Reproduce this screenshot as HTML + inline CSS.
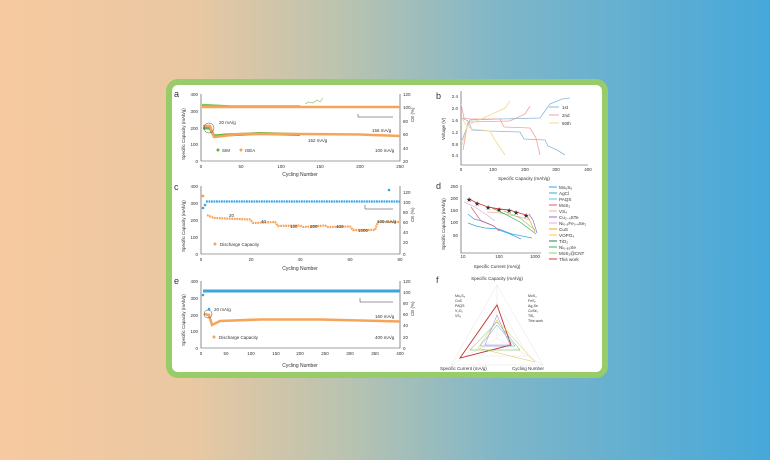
<!DOCTYPE html>
<html><head><meta charset="utf-8"><style>
html,body{margin:0;padding:0;width:770px;height:460px;overflow:hidden}
body{background:linear-gradient(90deg,#f7c9a0 0%,#e9c8a2 25%,#b9c3b0 45%,#7fb6c8 65%,#46a8da 100%)}
svg{position:absolute;left:0;top:0}
text{font-family:"Liberation Sans",sans-serif;fill:#333}
</style></head><body>
<svg width="770" height="460" viewBox="0 0 770 460">
<rect x="169" y="82" width="436" height="293" rx="9" fill="#fff" stroke="#98cc68" stroke-width="6"/>
<g font-size="4.5">
<!-- Panel a -->
<text x="174" y="97" font-size="9" fill="#111">a</text>
<path d="M201 94V161H400V94" fill="none" stroke="#444" stroke-width="0.6"/>
<g text-anchor="end"><text x="198" y="96">400</text><text x="198" y="113">300</text><text x="198" y="130">200</text><text x="198" y="146">100</text><text x="198" y="163">0</text></g>
<g><text x="403" y="96">120</text><text x="403" y="109">100</text><text x="403" y="123">80</text><text x="403" y="136">60</text><text x="403" y="150">40</text><text x="403" y="163">20</text></g>
<g text-anchor="middle"><text x="201" y="168">0</text><text x="241" y="168">50</text><text x="281" y="168">100</text><text x="320" y="168">150</text><text x="360" y="168">200</text><text x="400" y="168">250</text><text x="300" y="176" font-size="5">Cycling Number</text></g>
<text transform="translate(185,160) rotate(-90)" font-size="4.5">Specific Capacity (mAh/g)</text>
<text transform="translate(414,122) rotate(-90)" font-size="4.5">CE (%)</text>
<polyline points="202,105 230,106.5 300,106.5" fill="none" stroke="#7cc35a" stroke-width="2.5"/>
<polyline points="202,107 400,107" fill="none" stroke="#f6a45a" stroke-width="2.5"/>
<path d="M305 104l4 -2 4 1 4 -3 3 2 3 -4" fill="none" stroke="#7cc35a" stroke-width="0.6"/>
<polyline points="203,128 210,128 214,136 225,135 260,133.5 300,134.5" fill="none" stroke="#5cb33e" stroke-width="3"/>
<polyline points="203,126 210,126 214,137 240,134 300,134 360,134.5 400,136" fill="none" stroke="#f6a45a" stroke-width="2.5"/>
<circle cx="209" cy="128" r="5" fill="none" stroke="#444" stroke-width="0.5"/>
<text x="219" y="124" fill="#333">20 mA/g</text>
<text x="372" y="132" fill="#f6a45a">156 mA/g</text>
<text x="308" y="142" fill="#6cb84a">152 mA/g</text>
<circle cx="218" cy="150" r="1.5" fill="#5cb33e"/><text x="222" y="152">SIM</text>
<circle cx="241" cy="150" r="1.5" fill="#f6a45a"/><text x="245" y="152">ISEA</text>
<text x="375" y="152">100 mA/g</text>
<path d="M358 114V117H393" fill="none" stroke="#333" stroke-width="0.5"/>
<!-- Panel c -->
<text x="174" y="190" font-size="9" fill="#111">c</text>
<path d="M201 186V254H400V186" fill="none" stroke="#444" stroke-width="0.6"/>
<g text-anchor="end"><text x="198" y="188">400</text><text x="198" y="205">300</text><text x="198" y="222">200</text><text x="198" y="239">100</text><text x="198" y="256">0</text></g>
<g><text x="403" y="194">120</text><text x="403" y="204">100</text><text x="403" y="214">80</text><text x="403" y="224">60</text><text x="403" y="234">40</text><text x="403" y="244">20</text><text x="403" y="256">0</text></g>
<g text-anchor="middle"><text x="201" y="261">0</text><text x="251" y="261">20</text><text x="300" y="261">40</text><text x="350" y="261">60</text><text x="400" y="261">80</text><text x="300" y="270" font-size="5">Cycling Number</text></g>
<text transform="translate(185,252) rotate(-90)">Specific Capacity (mAh/g)</text>
<text transform="translate(414,222) rotate(-90)">CE (%)</text>
<polyline points="206,201.5 400,201.5" fill="none" stroke="#3aa5e0" stroke-width="2.2" stroke-dasharray="1.8,0.7"/>
<circle cx="203" cy="208" r="1.3" fill="#3aa5e0"/><circle cx="205" cy="205" r="1.3" fill="#3aa5e0"/><circle cx="389" cy="190" r="1.3" fill="#3aa5e0"/>
<polyline points="207,215 214,218 250,219.5 253,223 275,222 278,226 300,225.5 303,227 325,225.5 328,227 350,226.5 353,230 375,230 378,222 400,222" fill="none" stroke="#f6a45a" stroke-width="2.2" stroke-dasharray="1.8,0.7"/>
<circle cx="203" cy="196" r="1.4" fill="#f6a45a"/>
<text x="229" y="217">20</text><text x="261" y="223">40</text><text x="290" y="228">100</text><text x="310" y="228">200</text><text x="336" y="228">400</text><text x="358" y="232">1000</text>
<text x="377" y="223">100 mA/g</text>
<path d="M365 205V209H393" fill="none" stroke="#333" stroke-width="0.5"/>
<circle cx="215" cy="244" r="1.5" fill="#f6a45a"/><text x="220" y="246">Discharge Capacity</text>
<!-- Panel e -->
<text x="174" y="284" font-size="9" fill="#111">e</text>
<path d="M201 281V348H400V281" fill="none" stroke="#444" stroke-width="0.6"/>
<g text-anchor="end"><text x="198" y="283">400</text><text x="198" y="300">300</text><text x="198" y="317">200</text><text x="198" y="333">100</text><text x="198" y="350">0</text></g>
<g><text x="403" y="283">120</text><text x="403" y="294">100</text><text x="403" y="305">80</text><text x="403" y="316">60</text><text x="403" y="327">40</text><text x="403" y="339">20</text><text x="403" y="350">0</text></g>
<g text-anchor="middle"><text x="201" y="355">0</text><text x="226" y="355">50</text><text x="251" y="355">100</text><text x="276" y="355">150</text><text x="300" y="355">200</text><text x="325" y="355">250</text><text x="350" y="355">300</text><text x="375" y="355">350</text><text x="400" y="355">400</text><text x="300" y="367" font-size="5">Cycling Number</text></g>
<text transform="translate(185,346) rotate(-90)">Specific Capacity (mAh/g)</text>
<text transform="translate(414,316) rotate(-90)">CE (%)</text>
<polyline points="203,291 400,291" fill="none" stroke="#3aa5e0" stroke-width="3"/>
<circle cx="203" cy="295" r="1.3" fill="#3aa5e0"/><circle cx="209" cy="309" r="1.3" fill="#3aa5e0"/>
<polyline points="204,314 209,315 212,325 220,321 260,319.5 320,319.5 400,321.5" fill="none" stroke="#f6a45a" stroke-width="2.5"/>
<circle cx="208" cy="314" r="4" fill="none" stroke="#444" stroke-width="0.5"/>
<text x="214" y="311">20 mA/g</text>
<text x="375" y="318" fill="#f6a45a">160 mA/g</text>
<circle cx="214" cy="337" r="1.5" fill="#f6a45a"/><text x="219" y="339">Discharge Capacity</text>
<text x="375" y="339">400 mA/g</text>
<path d="M360 298V302H393" fill="none" stroke="#333" stroke-width="0.5"/>
<!-- Panel b -->
<text x="436" y="99" font-size="9" fill="#111">b</text>
<path d="M461 91V165H588" fill="none" stroke="#444" stroke-width="0.6"/>
<g text-anchor="end"><text x="458" y="98">2.4</text><text x="458" y="110">2.0</text><text x="458" y="122">1.6</text><text x="458" y="134">1.2</text><text x="458" y="146">0.8</text><text x="458" y="157">0.4</text></g>
<g text-anchor="middle"><text x="461" y="171">0</text><text x="493" y="171">100</text><text x="525" y="171">200</text><text x="556" y="171">300</text><text x="588" y="171">400</text><text x="524" y="180">Specific Capacity (mAh/g)</text></g>
<text transform="translate(445,140) rotate(-90)">Voltage (V)</text>
<path d="M462 118L468 121 472 130 490 131 520 132 524 139 545 140 548 146 557 150 565 155" fill="none" stroke="#8cb8dc" stroke-width="0.8"/>
<path d="M462 140L470 120 500 119 540 118 550 104 562 99 570 98" fill="none" stroke="#8cb8dc" stroke-width="0.8"/>
<path d="M461 104L464 118 470 119 500 119 504 127 530 128 536 138 540 155" fill="none" stroke="#f4a0a0" stroke-width="0.8"/>
<path d="M463 150L468 122 510 121 525 114 530 106" fill="none" stroke="#f4a0a0" stroke-width="0.8"/>
<path d="M462 118L466 125 472 129 490 131 495 140 505 155" fill="none" stroke="#f5d890" stroke-width="0.8"/>
<path d="M462 145L468 125 490 115 505 108 510 101" fill="none" stroke="#f5d890" stroke-width="0.8"/>
<line x1="549" y1="107" x2="559" y2="107" stroke="#8cb8dc"/><text x="562" y="109">1st</text>
<line x1="549" y1="115" x2="559" y2="115" stroke="#f4a0a0"/><text x="562" y="117">2nd</text>
<line x1="549" y1="123" x2="559" y2="123" stroke="#f5d890"/><text x="562" y="125">50th</text>
<!-- Panel d -->
<text x="436" y="189" font-size="9" fill="#111">d</text>
<path d="M461 185V253H541" fill="none" stroke="#444" stroke-width="0.6"/>
<g text-anchor="end"><text x="458" y="188">250</text><text x="458" y="200">200</text><text x="458" y="212">150</text><text x="458" y="224">100</text><text x="458" y="237">50</text></g>
<g text-anchor="middle"><text x="463" y="258">10</text><text x="499" y="258">100</text><text x="535" y="258">1000</text><text x="497" y="268">Specific Current (mA/g)</text></g>
<text transform="translate(445,250) rotate(-90)">Specific Capacity (mAh/g)</text>
<polyline points="468,214 474,219 482,221 492,225 499,230 510,234 521,239" fill="none" stroke="#3aa5e0" stroke-width="0.7"/>
<polyline points="468,223 476,226 485,228 499,229 512,234 532,238" fill="none" stroke="#3aa5e0" stroke-width="0.7"/>
<polyline points="471,207 481,221 494,226 499,231" fill="none" stroke="#e05a7a" stroke-width="0.7"/>
<polyline points="464,202 475,207 487,215 495,221" fill="none" stroke="#d8b0e0" stroke-width="0.7"/>
<polyline points="487,212 500,213 520,217 530,220" fill="none" stroke="#f0b0a0" stroke-width="0.7"/>
<polyline points="492,208 505,214 520,222 536,234" fill="none" stroke="#40b050" stroke-width="0.7"/>
<polyline points="504,211 520,218 535,230" fill="none" stroke="#90d070" stroke-width="0.7"/>
<polyline points="529,214 533,220 537,233" fill="none" stroke="#9070d0" stroke-width="0.7"/>
<polyline points="527,215 531,223 535,232" fill="none" stroke="#f0a030" stroke-width="0.7"/>
<polyline points="469,199 477,203 488,207 499,209 509,210 516,212 526,215" fill="none" stroke="#e83030" stroke-width="0.9"/>
<g><text x="466" y="202" font-size="7" fill="#e83030">★</text><text x="474" y="206" font-size="7" fill="#e83030">★</text><text x="485" y="210" font-size="7" fill="#e83030">★</text><text x="496" y="212" font-size="7" fill="#e83030">★</text><text x="506" y="213" font-size="7" fill="#e83030">★</text><text x="513" y="215" font-size="7" fill="#e83030">★</text><text x="523" y="218" font-size="7" fill="#e83030">★</text></g>
<g font-size="4.6">
<line x1="549" y1="187" x2="557" y2="187" stroke="#3aa5e0"/><text x="559" y="189">Mo₆S₈</text>
<line x1="549" y1="193" x2="557" y2="193" stroke="#3aa5e0"/><text x="559" y="195">AgCl</text>
<line x1="549" y1="199" x2="557" y2="199" stroke="#60c0e8"/><text x="559" y="201">PAQS</text>
<line x1="549" y1="205" x2="557" y2="205" stroke="#e05a7a"/><text x="559" y="207">MoS₂</text>
<line x1="549" y1="211" x2="557" y2="211" stroke="#f0b0a0"/><text x="559" y="213">VS₄</text>
<line x1="549" y1="217" x2="557" y2="217" stroke="#9070d0"/><text x="559" y="219">Cu₂₋ₓSTe</text>
<line x1="549" y1="223" x2="557" y2="223" stroke="#d8b0e0"/><text x="559" y="225">Ni₀.₆Fe₀.₄Se₂</text>
<line x1="549" y1="229" x2="557" y2="229" stroke="#f0a030"/><text x="559" y="231">CuS</text>
<line x1="549" y1="235" x2="557" y2="235" stroke="#f5d040"/><text x="559" y="237">VOPO₄</text>
<line x1="549" y1="241" x2="557" y2="241" stroke="#208050"/><text x="559" y="243">TiO₂</text>
<line x1="549" y1="247" x2="557" y2="247" stroke="#40b050"/><text x="559" y="249">Ni₀.₈₅Se</text>
<line x1="549" y1="253" x2="557" y2="253" stroke="#90d070"/><text x="559" y="255">MoS₂@CNT</text>
<line x1="549" y1="259" x2="557" y2="259" stroke="#e83030"/><text x="559" y="261">This work</text>
</g>
<!-- Panel f -->
<text x="436" y="283" font-size="9" fill="#111">f</text>
<g fill="none" stroke="#ddd" stroke-width="0.4">
<polygon points="497,285 543,365 451,365"/><polygon points="497,303 528,356 466,356"/><polygon points="497,320 512,347 482,347"/>
<line x1="497" y1="338" x2="497" y2="285"/><line x1="497" y1="338" x2="543" y2="365"/><line x1="497" y1="338" x2="451" y2="365"/>
</g>
<polygon points="497,305 511,345 460,358" fill="none" stroke="#c03030" stroke-width="0.9"/>
<polygon points="497,320 535,362 478,348" fill="none" stroke="#e8c040" stroke-width="0.5"/>
<polygon points="497,322 520,350 470,350" fill="none" stroke="#60b040" stroke-width="0.5"/>
<polygon points="497,325 515,346 480,346" fill="none" stroke="#60a0e0" stroke-width="0.5"/>
<polygon points="497,315 510,345 485,345" fill="none" stroke="#a080d0" stroke-width="0.5"/>
<g font-size="3.5">
<text x="455" y="297">Mo₆S₈</text><text x="455" y="302">CoS</text><text x="455" y="307">PAQS</text><text x="455" y="312">V₂O₅</text><text x="455" y="317">VS₄</text>
<text x="528" y="297">MoS₂</text><text x="528" y="302">FeS₂</text><text x="528" y="307">Ag₂Se</text><text x="528" y="312">CoSe₂</text><text x="528" y="317">TiS₂</text><text x="528" y="322">This work</text>
</g>
<text x="497" y="280" text-anchor="middle">Specific Capacity (mAh/g)</text>
<text x="440" y="370">Specific Current (mA/g)</text>
<text x="512" y="370">Cycling Number</text>
</g>
</svg>
</body></html>
